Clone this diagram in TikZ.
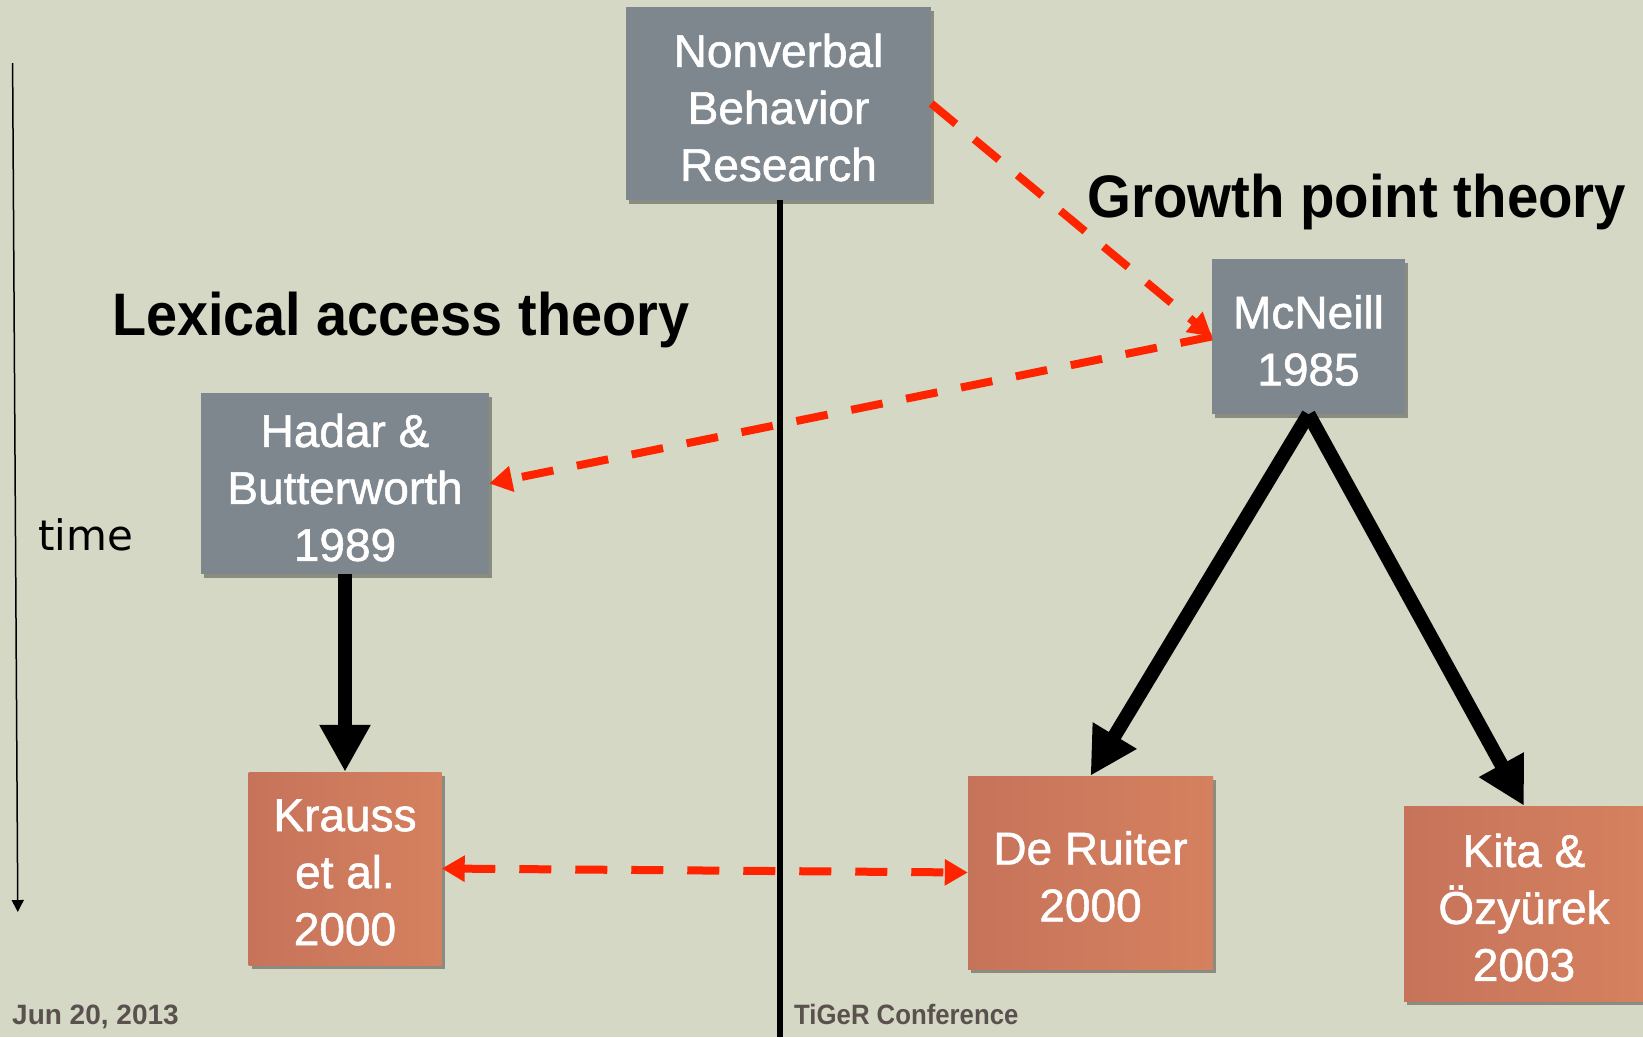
\documentclass[tikz,border=0pt]{standalone}
\usepackage{fontspec}
\setmainfont{Liberation Sans}
\newfontfamily\dejavu{DejaVu Sans}
\newfontfamily\boxface[FakeBold=1.2]{Liberation Sans}
\usetikzlibrary{arrows.meta,shadows}
\definecolor{bgc}{HTML}{D5D8C4}
\definecolor{grayc}{HTML}{7F878E}
\definecolor{orL}{HTML}{C6735B}
\definecolor{orR}{HTML}{D5815F}
\definecolor{redc}{HTML}{FF2400}
\definecolor{footc}{HTML}{5A514F}
\newcommand\boxfnt{\boxface\fontsize{46}{57}\selectfont}
\tikzset{
  box/.style={inner sep=0pt,
    drop shadow={shadow xshift=3pt, shadow yshift=-4pt, fill=black, opacity=0.35}},
  graybox/.style={box, fill=grayc},
  orbox/.style={box, left color=orL, right color=orR},
  boxtext/.style={inner sep=0pt, align=center, text=white, font=\boxfnt},
  thickarrow/.style={line width=14pt, -{Triangle[length=47pt,width=48pt]}},
  reddash/.style={draw=redc, line width=8pt, dash pattern=on 32pt off 24pt},
  heading/.style={font=\fontsize{60}{70}\selectfont\bfseries, anchor=base west, inner sep=0pt},
  footer/.style={font=\fontsize{28}{32}\selectfont\bfseries, text=footc, anchor=base west, inner sep=0pt}
}
\begin{document}
\begin{tikzpicture}[x=1pt,y=-1pt]
\useasboundingbox (0,0) rectangle (1643,1037);
\fill[bgc] (0,0) rectangle (1643,1037);

\coordinate (vbot) at (780,1037);

% boxes
\node[graybox, minimum width=305pt, minimum height=193pt] (nb) at (778.5,103.5) {};
\node[graybox, minimum width=193pt, minimum height=155pt] (mc) at (1308.5,336.5) {};
\node[graybox, minimum width=288pt, minimum height=181pt] (hb) at (345,483.5) {};
\node[orbox, minimum width=193pt, minimum height=193pt] (kr) at (345,868.5) {};
\node[orbox, minimum width=245pt, minimum height=193pt] (dr) at (1090.5,872.5) {};
\node[orbox, minimum width=240pt, minimum height=195pt] (kt) at (1524,903.5) {};

% box texts
\node[boxtext] (nbt) at ([yshift=-4pt]nb.center) {Nonverbal\\Behavior\\Research};
\node[boxtext] (mct) at ([yshift=-4pt]mc.center) {McNeill\\1985};
\node[boxtext] (hbt) at ([yshift=-4pt]hb.center) {Hadar \&\\Butterworth\\1989};
\node[boxtext] (krt) at ([yshift=-4pt]kr.center) {Krauss\\et al.\\2000};
\node[boxtext] (drt) at ([yshift=-4pt]dr.center) {De Ruiter\\2000};
\node[boxtext] (ktt) at ([yshift=-4pt]kt.center) {Kita \&\\Özyürek\\2003};

\draw[line width=6pt] (nb.south -| vbot) -- (vbot);

% headings
\node[heading] (lex) at (112,335) {\scalebox{0.93}[1]{Lexical access theory}};
\node[heading] (gro) at (1087,217) {\scalebox{0.94}[1]{Growth point theory}};

% time axis
\coordinate (ttop) at (12.6,63);
\coordinate (tbot) at (17.8,912);
\draw[line width=1.5pt, -{Triangle[length=12pt,width=12pt]}] (ttop) -- (tbot);
\node[font=\dejavu\fontsize{42}{50}\selectfont, anchor=base west, inner sep=0pt] (time) at (38,550) {time};

% black arrows
\draw[thickarrow] (hb.south) -- (hb.south |- kr.north);
\draw[thickarrow] (mc.south) -- (dr.north);
\draw[thickarrow] (mc.south) -- (kt.north);

% red dashed arrows
\draw[reddash, -{Triangle[length=23pt,width=25pt]}] (nb.east) -- (mc.west);
\draw[reddash, -{Triangle[length=23pt,width=25pt]}] (mc.west) -- (hb.east);
\draw[reddash, {Triangle[length=23pt,width=25pt]}-{Triangle[length=23pt,width=25pt]}] (kr.east) -- (dr.west);

% footer
\node[footer] (date) at (12,1024) {Jun 20, 2013};
\node[footer] (conf) at (794,1024) {\scalebox{0.92}[1]{TiGeR Conference}};
\end{tikzpicture}
\end{document}
